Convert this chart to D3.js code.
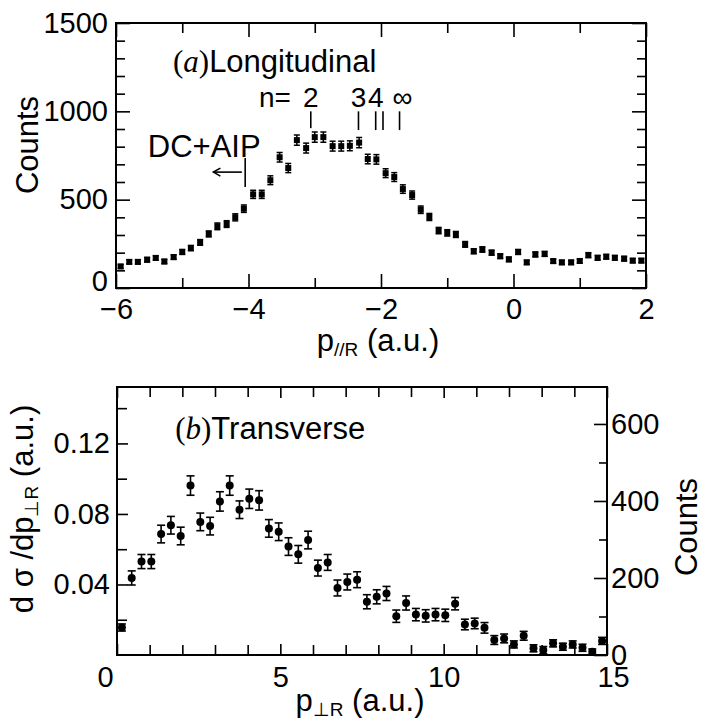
<!DOCTYPE html>
<html lang="en">
<head>
<meta charset="UTF-8">
<title>Longitudinal and transverse momentum distributions</title>
<script src="https://d3js.org/d3.v7.min.js"></script>
<style>
  body { margin: 0; background: #fff; }
  svg { display: block; font-family: "Liberation Sans", Arial, Helvetica, sans-serif; }
  .frame { fill: none; stroke: #000; stroke-width: 2; }
  .ticklabel { font-size: 29px; fill: #000; }
  .title { font-size: 31px; fill: #000; }
  .note { font-size: 31px; fill: #000; }
  .serif { font-family: "Liberation Serif", "Times New Roman", serif; }
</style>
</head>
<body>
<svg id="chart" width="703" height="720"></svg>
<script>
// ----- panel (a): longitudinal, counts per bin -----
const longX = [-5.93, -5.8, -5.67, -5.53, -5.4, -5.27, -5.13, -5, -4.87, -4.73,
  -4.6, -4.47, -4.33, -4.2, -4.07, -3.93, -3.8, -3.67, -3.53, -3.4,
  -3.27, -3.13, -3, -2.87, -2.73, -2.6, -2.47, -2.33, -2.2, -2.07,
  -1.93, -1.8, -1.67, -1.53, -1.4, -1.27, -1.13, -1, -0.87, -0.73,
  -0.6, -0.47, -0.33, -0.2, -0.07, 0.07, 0.2, 0.33, 0.47, 0.6,
  0.73, 0.87, 1, 1.13, 1.27, 1.4, 1.53, 1.67, 1.8, 1.93];
const longCounts = [122, 148, 148, 160, 170, 150, 175, 204, 226, 258,
  306, 349, 362, 400, 449, 530, 530, 610, 740, 679,
  837, 792, 854, 854, 803, 803, 805, 823, 730, 728,
  650, 628, 560, 526, 443, 402, 325, 312, 303, 247,
  208, 218, 200, 180, 162, 204, 145, 190, 193, 152,
  145, 145, 153, 186, 171, 177, 171, 166, 155, 155];
const longErr = [11, 12, 12, 13, 13, 12, 13, 14, 15, 16,
  17, 19, 19, 20, 21, 23, 23, 25, 27, 26,
  29, 28, 29, 29, 28, 28, 28, 29, 27, 27,
  25, 25, 24, 23, 21, 20, 18, 18, 17, 16,
  14, 15, 14, 13, 13, 14, 12, 14, 14, 12,
  12, 12, 12, 14, 13, 13, 13, 13, 12, 12];

// Rydberg n marks above the peak
const nMarkX = [-3.06, -2.34, -2.08, -1.97, -1.72];
const nMarkText = ["2", "3", "4", "", "\u221E"];
const dcAipX = -4.05;

// ----- panel (b): transverse, d sigma / dp -----
const transX = [0.15, 0.45, 0.75, 1.05, 1.35, 1.65, 1.95, 2.25, 2.55, 2.85,
  3.15, 3.45, 3.75, 4.05, 4.35, 4.65, 4.95, 5.25, 5.55, 5.85,
  6.15, 6.45, 6.75, 7.05, 7.35, 7.65, 7.95, 8.25, 8.55, 8.85,
  9.15, 9.45, 9.75, 10.05, 10.35, 10.65, 10.95, 11.25, 11.55, 11.85,
  12.15, 12.45, 12.75, 13.05, 13.35, 13.65, 13.95, 14.25, 14.55, 14.85];
const transVal = [0.0156, 0.0437, 0.053, 0.053, 0.0686, 0.0736, 0.0675, 0.0961, 0.0755, 0.0731,
  0.0871, 0.0961, 0.0824, 0.0886, 0.0877, 0.0718, 0.0699, 0.0615, 0.0571, 0.0652,
  0.0493, 0.0525, 0.038, 0.0414, 0.0427, 0.0302, 0.033, 0.0349, 0.022, 0.0295,
  0.0229, 0.0222, 0.0229, 0.0225, 0.0291, 0.0173, 0.0179, 0.0154, 0.0085, 0.0094,
  0.006, 0.0109, 0.0038, 0.0028, 0.0066, 0.0047, 0.006, 0.0041, 0.0019, 0.008];
const transErr = [0.002, 0.004, 0.004, 0.004, 0.005, 0.005, 0.005, 0.0055, 0.005, 0.005,
  0.0055, 0.0055, 0.005, 0.0055, 0.0055, 0.005, 0.005, 0.005, 0.005, 0.005,
  0.0045, 0.0045, 0.0045, 0.0045, 0.0045, 0.004, 0.004, 0.004, 0.0035, 0.004,
  0.0035, 0.0035, 0.0035, 0.0035, 0.0035, 0.003, 0.003, 0.003, 0.0025, 0.0025,
  0.002, 0.0025, 0.002, 0.002, 0.002, 0.002, 0.002, 0.002, 0.0015, 0.002];

// tick values / labels
const aXMajor = [-6, -4, -2, 0, 2];
const aXMinor = [-5, -3, -1, 1];
const aYMajor = [0, 500, 1000, 1500];
const aYMinor = d3.range(100, 1500, 100).filter(v => v % 500 !== 0);
const bXMajor = [0, 5, 10, 15];
const bXMinor = d3.range(1, 15).filter(v => v % 5 !== 0);
const bYLeftMajor = [0.04, 0.08, 0.12];
const bYLeftMinor = [0.02, 0.06, 0.10, 0.14];
const bYRightMajor = [0, 200, 400, 600];
const bYRightMinor = [100, 300, 500];

const svg = d3.select("#chart");
svg.append("rect").attr("width", 703).attr("height", 720).attr("fill", "#fff");

function addAxis(orient, scale, at, values, size, fmt, pad) {
  const maker = { bottom: d3.axisBottom, top: d3.axisTop, left: d3.axisLeft, right: d3.axisRight }[orient];
  const axis = maker(scale).tickValues(values).tickSize(-size).tickPadding(pad || 0)
    .tickFormat(fmt || (() => ""));
  const tr = (orient === "bottom" || orient === "top") ? `translate(0,${at})` : `translate(${at},0)`;
  const g = svg.append("g").attr("transform", tr).call(axis);
  g.select(".domain").remove();
  g.attr("font-family", null).attr("font-size", null);
  g.selectAll(".tick line").attr("stroke", "#000").attr("stroke-width", 1.6);
  g.selectAll(".tick text").attr("class", "ticklabel").attr("fill", "#000");
  return g;
}

// ================= panel (a) =================
const xa = d3.scaleLinear().domain([-6, 2]).range([116, 646]);
const ya = d3.scaleLinear().domain([0, 1500]).range([288, 23]);

addAxis("bottom", xa, 288, aXMinor, 10);
addAxis("bottom", xa, 288, aXMajor, 14, d3.format("d"), 10);
addAxis("top", xa, 23, aXMinor, 10);
addAxis("top", xa, 23, aXMajor, 14);
addAxis("left", ya, 116, aYMinor, 9);
const ayLab = addAxis("left", ya, 116, aYMajor, 14, d3.format("d"), 8);
ayLab.selectAll(".tick text").attr("dy", d => d === 0 ? "0.1em" : "0.32em");
addAxis("right", ya, 646, aYMinor, 9);
addAxis("right", ya, 646, aYMajor, 14);

svg.append("rect").attr("class", "frame")
  .attr("x", 116).attr("y", 23).attr("width", 646 - 116).attr("height", 288 - 23);

const ptsA = svg.append("g").selectAll("g")
  .data(longX.map((x, i) => ({ x, y: longCounts[i], e: longErr[i] })))
  .join("g").attr("stroke", "#000").attr("stroke-width", 1.5);
ptsA.append("line")
  .attr("x1", d => xa(d.x)).attr("x2", d => xa(d.x))
  .attr("y1", d => ya(d.y - d.e)).attr("y2", d => ya(d.y + d.e));
[-1, 1].forEach(s => {
  ptsA.append("line")
    .attr("x1", d => xa(d.x) - 3).attr("x2", d => xa(d.x) + 3)
    .attr("y1", d => ya(d.y + s * d.e)).attr("y2", d => ya(d.y + s * d.e));
});
ptsA.append("rect")
  .attr("x", d => xa(d.x) - 3).attr("y", d => ya(d.y) - 3)
  .attr("width", 6).attr("height", 6).attr("fill", "#000").attr("stroke", "none");

// annotations (a)
const labA = svg.append("text").attr("class", "note")
  .attr("x", xa(-5.14)).attr("y", ya(1222));
labA.append("tspan").attr("class", "serif").text("(");
labA.append("tspan").attr("class", "serif").attr("font-style", "italic").text("a");
labA.append("tspan").attr("class", "serif").text(")");
labA.append("tspan").text("Longitudinal");

svg.append("text").attr("class", "note").style("font-size", "28px")
  .attr("x", xa(-3.36)).attr("y", ya(1025)).attr("text-anchor", "end").text("n=");
svg.append("g").selectAll("text")
  .data(nMarkX.map((x, i) => ({ x, t: nMarkText[i] })).filter(d => d.t))
  .join("text").attr("class", "note").style("font-size", "28px")
  .attr("text-anchor", "middle")
  .attr("x", d => xa(d.x) + (d.t === "\u221E" ? 3 : 0)).attr("y", ya(1025))
  .text(d => d.t);
svg.append("g").selectAll("line").data(nMarkX).join("line")
  .attr("stroke", "#000").attr("stroke-width", 1.6)
  .attr("x1", d => xa(d)).attr("x2", d => xa(d))
  .attr("y1", ya(1000)).attr("y2", (d, i) => ya(i === 0 ? 905 : 894));

svg.append("text").attr("class", "note")
  .attr("x", xa(-5.52)).attr("y", ya(741)).text("DC+AIP");
svg.append("line").attr("stroke", "#000").attr("stroke-width", 1.6)
  .attr("x1", xa(dcAipX)).attr("x2", xa(dcAipX)).attr("y1", ya(736)).attr("y2", ya(572));
const arrowY = ya(656);
svg.append("line").attr("stroke", "#000").attr("stroke-width", 1.6)
  .attr("x1", xa(-4.53)).attr("x2", xa(-4.1)).attr("y1", arrowY).attr("y2", arrowY);
svg.append("path").attr("fill", "none").attr("stroke", "#000").attr("stroke-width", 1.6)
  .attr("d", `M${xa(-4.53) + 7},${arrowY - 4} L${xa(-4.53)},${arrowY} L${xa(-4.53) + 7},${arrowY + 4}`);

// axis titles (a)
svg.append("text").attr("class", "title")
  .attr("transform", "translate(38,145) rotate(-90)").attr("text-anchor", "middle").text("Counts");
const tA = svg.append("text").attr("class", "title").attr("x", 378).attr("y", 351).attr("text-anchor", "middle");
tA.append("tspan").text("p");
tA.append("tspan").attr("font-size", 19).attr("dy", 5).text("//R");
tA.append("tspan").attr("dy", -5).text(" (a.u.)");

// ================= panel (b) =================
const xb = d3.scaleLinear().domain([0, 15]).range([117, 607]);
const yb = d3.scaleLinear().domain([0, 0.152]).range([655, 387]);
const yc = d3.scaleLinear().domain([0, 696]).range([655, 387]);

const bxLab = addAxis("bottom", xb, 655, bXMajor, 11, d3.format("d"), 11);
bxLab.selectAll(".tick text").attr("dx", d => d === 0 ? -12 : d === 15 ? 6 : 0);
addAxis("bottom", xb, 655, bXMinor, 10);
addAxis("top", xb, 387, bXMajor, 11);
addAxis("top", xb, 387, bXMinor, 10);
addAxis("left", yb, 117, bYLeftMajor, 11, d3.format(".2f"), 7);
addAxis("left", yb, 117, bYLeftMinor, 10);
addAxis("right", yc, 607, bYRightMajor, 13, d3.format("d"), 4);
addAxis("right", yc, 607, bYRightMinor, 8);

svg.append("rect").attr("class", "frame")
  .attr("x", 117).attr("y", 387).attr("width", 607 - 117).attr("height", 655 - 387);

const ptsB = svg.append("g").selectAll("g")
  .data(transX.map((x, i) => ({ x, y: transVal[i], e: transErr[i] })))
  .join("g").attr("stroke", "#000").attr("stroke-width", 1.6);
ptsB.append("line")
  .attr("x1", d => xb(d.x)).attr("x2", d => xb(d.x))
  .attr("y1", d => yb(Math.max(0, d.y - d.e))).attr("y2", d => yb(d.y + d.e));
[-1, 1].forEach(s => {
  ptsB.append("line")
    .attr("x1", d => xb(d.x) - 4).attr("x2", d => xb(d.x) + 4)
    .attr("y1", d => yb(Math.max(0, d.y + s * d.e))).attr("y2", d => yb(Math.max(0, d.y + s * d.e)));
});
ptsB.append("circle")
  .attr("cx", d => xb(d.x)).attr("cy", d => yb(d.y)).attr("r", 4)
  .attr("fill", "#000").attr("stroke", "none");

// annotation (b)
const labB = svg.append("text").attr("class", "note")
  .attr("x", xb(1.78)).attr("y", yb(0.1225));
labB.append("tspan").attr("class", "serif").text("(");
labB.append("tspan").attr("class", "serif").attr("font-style", "italic").text("b");
labB.append("tspan").attr("class", "serif").text(")");
labB.append("tspan").text("Transverse");

// axis titles (b)
const tL = svg.append("text").attr("class", "title")
  .attr("transform", "translate(33,509) rotate(-90)").attr("text-anchor", "middle");
tL.append("tspan").text("d \u03C3 /dp");
tL.append("tspan").attr("font-size", 19).attr("dy", 5).text("\u22A5R");
tL.append("tspan").attr("dy", -5).text(" (a.u.)");

svg.append("text").attr("class", "title")
  .attr("transform", "translate(697,527) rotate(-90)").attr("text-anchor", "middle").text("Counts");

const tB = svg.append("text").attr("class", "title").attr("x", 360).attr("y", 711).attr("text-anchor", "middle");
tB.append("tspan").text("p");
tB.append("tspan").attr("font-size", 19).attr("dy", 5).text("\u22A5R");
tB.append("tspan").attr("dy", -5).text(" (a.u.)");
</script>
</body>
</html>
